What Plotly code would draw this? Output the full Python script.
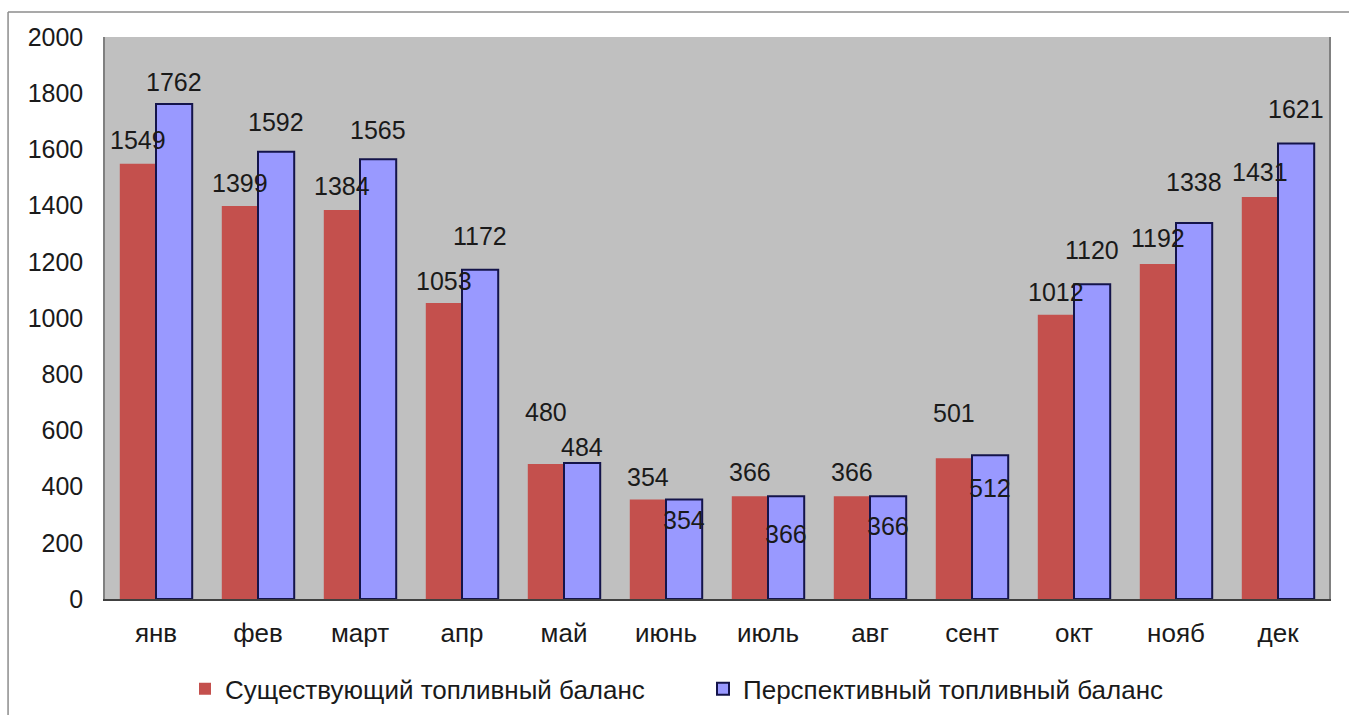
import plotly.graph_objects as go

months = ["янв", "фев", "март", "апр", "май", "июнь", "июль", "авг", "сент", "окт", "нояб", "дек"]
existing = [1549, 1399, 1384, 1053, 480, 354, 366, 366, 501, 1012, 1192, 1431]
prospective = [1762, 1592, 1565, 1172, 484, 354, 366, 366, 512, 1120, 1338, 1621]
y_ticks = list(range(0, 2001, 200))

name_existing = "Существующий топливный баланс"
name_prospective = "Перспективный топливный баланс"

# vertical nudges (px) of the value labels relative to each bar top
shift_existing = [24, 23, 24, 22, 52, 23, 24, 24, 45, 23, 26, 25]
shift_prospective = [22, 30, 29, 34, 16, -20, -38, -30, -33, 34, 41, 35]

FONT = "Liberation Sans, Arial, sans-serif"
TXT = "#1a1a1a"
RED = "#C4504D"
BLUE = "#9999FF"
NAVY = "#14144A"

fig = go.Figure()
fig.add_trace(go.Bar(x=months, y=existing, name=name_existing,
                     marker=dict(color=RED, line=dict(width=0))))
fig.add_trace(go.Bar(x=months, y=prospective, name=name_prospective,
                     marker=dict(color=BLUE, line=dict(color=NAVY, width=2))))

annotations = []
for m, v, s in zip(months, existing, shift_existing):
    annotations.append(dict(x=m, y=v, xref="x", yref="y", text=str(v), showarrow=False,
                            xshift=-18, yshift=s, yanchor="middle",
                            font=dict(family=FONT, size=25, color=TXT)))
for m, v, s in zip(months, prospective, shift_prospective):
    annotations.append(dict(x=m, y=v, xref="x", yref="y", text=str(v), showarrow=False,
                            xshift=18, yshift=s, yanchor="middle",
                            font=dict(family=FONT, size=25, color=TXT)))

# outer frame of the chart area (top and left edges)
shapes = [
    dict(type="line", xref="paper", yref="paper", x0=-0.0792, x1=1.02, y0=1.0445, y1=1.0445,
         line=dict(color="#8c8c8c", width=1.5)),
    dict(type="line", xref="paper", yref="paper", x0=-0.0792, x1=-0.0792, y0=1.0445, y1=-0.25,
         line=dict(color="#8c8c8c", width=1.5)),
]

fig.update_layout(
    width=1349, height=715,
    margin=dict(l=105, r=20, t=37, b=116, autoexpand=False),
    paper_bgcolor="white",
    plot_bgcolor="#C0C0C0",
    barmode="group",
    bargap=0.29,
    bargroupgap=0,
    showlegend=True,
    legend=dict(orientation="h", x=(185 - 105) / 1224, xanchor="left", y=-0.118, yanchor="top",
                font=dict(family=FONT, size=26, color=TXT),
                itemwidth=30, traceorder="normal", entrywidth=473),
    font=dict(family=FONT, size=25, color=TXT),
    annotations=annotations,
    shapes=shapes,
)
fig.update_xaxes(showgrid=False, showline=True, linecolor="#404040", linewidth=1.5,
                 mirror=False, ticks="", tickfont=dict(family=FONT, size=26, color=TXT),
                 ticklabelstandoff=10)
fig.update_yaxes(range=[0, 2000], tickvals=y_ticks, showgrid=False, zeroline=False,
                 showline=True, linecolor="#808080", linewidth=1.5, mirror=True,
                 ticks="", tickfont=dict(family=FONT, size=25, color=TXT),
                 ticklabelstandoff=15)

fig.write_html("out.html")
